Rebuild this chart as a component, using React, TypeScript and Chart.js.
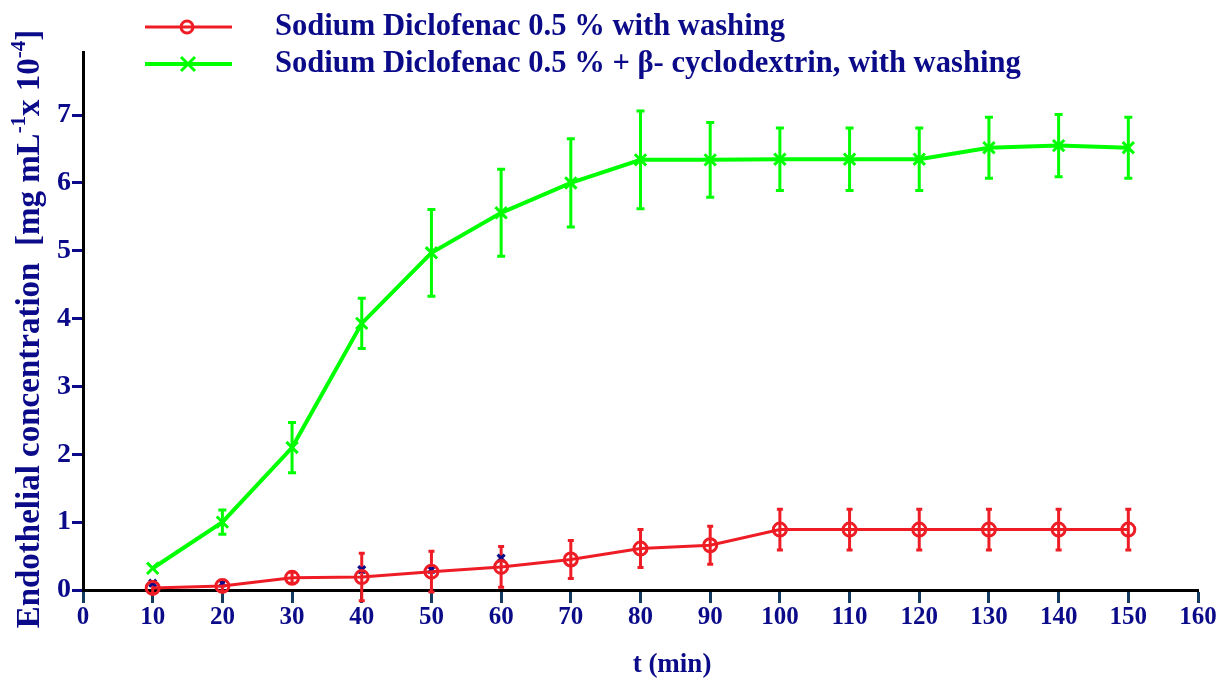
import React, { useEffect, useRef } from 'react';
import { Chart, registerables } from 'chart.js';

Chart.register(...registerables);

// ---- data ----
const times = [10, 20, 30, 40, 50, 60, 70, 80, 90, 100, 110, 120, 130, 140, 150];
const redMeans = [0.03, 0.06, 0.18, 0.19, 0.27, 0.34, 0.45, 0.61, 0.66, 0.89, 0.89, 0.89, 0.89, 0.89, 0.89];
const redErrors = [0.08, 0.08, 0.08, 0.35, 0.3, 0.3, 0.28, 0.28, 0.28, 0.3, 0.3, 0.3, 0.3, 0.3, 0.3];
const greenMeans = [0.32, 1.0, 2.1, 3.93, 4.97, 5.56, 6.0, 6.34, 6.34, 6.35, 6.35, 6.35, 6.52, 6.55, 6.52];
const greenErrors = [0, 0.18, 0.37, 0.37, 0.64, 0.64, 0.65, 0.72, 0.55, 0.46, 0.46, 0.46, 0.45, 0.46, 0.45];
const navyTimes = [10, 20, 40, 50, 60];
const navyValues = [0.1, 0.1, 0.3, 0.3, 0.47];
const yTickValues = [0, 1, 2, 3, 4, 5, 6, 7];
const xMin = 0;
const xMax = 160;
const yMax = 7.93;

const redLabel = 'Sodium Diclofenac 0.5 % with washing';
const greenLabel = 'Sodium Diclofenac 0.5 % + \u03B2- cyclodextrin, with washing';
const xTitle = 't (min)';
const yTitleParts = [
  { t: 'Endothelial concentration  [mg mL', sup: false },
  { t: '-1', sup: true },
  { t: 'x 10', sup: false },
  { t: '-4', sup: true },
  { t: ']', sup: false },
];

const RED = '#ee1c25';
const GREEN = '#00ff00';
const NAVY = '#0b0b8a';
const TICKNAVY = '#153a60';
const FONT = '"Liberation Serif", "Times New Roman", serif';

const errorBarPlugin = {
  id: 'errorBars',
  beforeDatasetsDraw(chart: any) {
    const ctx = chart.ctx;
    const xs = chart.scales.x;
    const ys = chart.scales.y;
    const sets = [
      { means: redMeans, errs: redErrors, color: RED, cap: 3, lw: 3 },
      { means: greenMeans, errs: greenErrors, color: GREEN, cap: 4, lw: 3 },
    ];
    ctx.save();
    for (const s of sets) {
      ctx.strokeStyle = s.color;
      ctx.lineWidth = s.lw;
      times.forEach((t, i) => {
        const e = s.errs[i];
        if (!e) return;
        const px = xs.getPixelForValue(t);
        const top = ys.getPixelForValue(s.means[i] + e);
        const bot = ys.getPixelForValue(s.means[i] - e);
        ctx.beginPath();
        ctx.moveTo(px, top);
        ctx.lineTo(px, bot);
        ctx.moveTo(px - s.cap, top);
        ctx.lineTo(px + s.cap, top);
        ctx.moveTo(px - s.cap, bot);
        ctx.lineTo(px + s.cap, bot);
        ctx.stroke();
      });
    }
    ctx.restore();
  },
};

const decorPlugin = {
  id: 'decor',
  afterDraw(chart: any) {
    const ctx = chart.ctx;
    ctx.save();
    const drawLegendRow = (y: number, color: string, lw: number, style: string, label: string) => {
      ctx.strokeStyle = color;
      ctx.lineWidth = lw;
      ctx.beginPath();
      ctx.moveTo(145, y);
      ctx.lineTo(232, y);
      ctx.stroke();
      ctx.lineWidth = 3;
      if (style === 'circle') {
        ctx.beginPath();
        ctx.ellipse(187, y, 6, 6, 0, 0, Math.PI * 2);
        ctx.stroke();
      } else {
        ctx.beginPath();
        ctx.moveTo(181, y - 7);
        ctx.lineTo(195, y + 7);
        ctx.moveTo(195, y - 7);
        ctx.lineTo(181, y + 7);
        ctx.stroke();
      }
      ctx.fillStyle = NAVY;
      ctx.font = `bold 30.6px ${FONT}`;
      ctx.textAlign = 'left';
      ctx.textBaseline = 'middle';
      ctx.fillText(label, 275, y);
    };
    drawLegendRow(27, RED, 3, 'circle', redLabel);
    drawLegendRow(64, GREEN, 4, 'cross', greenLabel);

    // x title
    ctx.fillStyle = NAVY;
    ctx.font = `bold 27px ${FONT}`;
    ctx.textAlign = 'center';
    ctx.textBaseline = 'middle';
    ctx.fillText(xTitle, 672, 665);

    // y title (rotated, with superscripts)
    ctx.save();
    ctx.translate(30, 329);
    ctx.rotate(-Math.PI / 2);
    ctx.fillStyle = NAVY;
    ctx.textBaseline = 'middle';
    ctx.textAlign = 'left';
    const mainFont = `bold 33px ${FONT}`;
    const supFont = `bold 21px ${FONT}`;
    let total = 0;
    for (const p of yTitleParts) {
      ctx.font = p.sup ? supFont : mainFont;
      total += ctx.measureText(p.t).width;
    }
    let cx = -total / 2;
    for (const p of yTitleParts) {
      ctx.font = p.sup ? supFont : mainFont;
      ctx.fillText(p.t, cx, p.sup ? -10 : 0);
      cx += ctx.measureText(p.t).width;
    }
    ctx.restore();
    ctx.restore();
  },
};

export default function App() {
  const canvasRef = useRef<HTMLCanvasElement | null>(null);

  useEffect(() => {
    document.body.style.margin = '0';
    const canvas = canvasRef.current;
    if (!canvas) return;
    const chart = new Chart(canvas, {
      type: 'line',
      data: {
        datasets: [
          {
            label: redLabel,
            data: times.map((t, i) => ({ x: t, y: redMeans[i] })),
            borderColor: RED,
            backgroundColor: 'transparent',
            borderWidth: 3,
            pointStyle: 'circle',
            pointRadius: 6.5,
            pointBorderWidth: 3,
            pointBorderColor: RED,
            pointBackgroundColor: 'rgba(0,0,0,0)',
            tension: 0,
            clip: false,
            order: 1,
          },
          {
            label: greenLabel,
            data: times.map((t, i) => ({ x: t, y: greenMeans[i] })),
            borderColor: GREEN,
            backgroundColor: 'transparent',
            borderWidth: 4,
            pointStyle: 'crossRot',
            pointRadius: 8,
            pointBorderWidth: 3,
            pointBorderColor: GREEN,
            tension: 0,
            clip: false,
            order: 2,
          },
          {
            label: 'marks',
            data: navyTimes.map((t, i) => ({ x: t, y: navyValues[i] })),
            showLine: false,
            borderColor: NAVY,
            pointStyle: 'crossRot',
            pointRadius: 5,
            pointBorderWidth: 3,
            pointBorderColor: NAVY,
            clip: false,
            order: 3,
          },
        ],
      },
      options: {
        animation: false,
        responsive: false,
        maintainAspectRatio: false,
        layout: { padding: { left: 0, top: 52, right: 22, bottom: 0 } },
        plugins: {
          legend: { display: false },
          tooltip: { enabled: false },
        },
        scales: {
          x: {
            type: 'linear',
            min: xMin,
            max: xMax,
            afterFit: (scale: any) => {
              scale.height = 88;
            },
            ticks: {
              stepSize: 10,
              color: NAVY,
              font: { family: FONT, size: 25, weight: 'bold' },
              padding: 0,
              maxRotation: 0,
              autoSkip: false,
            },
            grid: {
              drawOnChartArea: false,
              drawTicks: true,
              tickLength: 13,
              tickColor: TICKNAVY,
              tickWidth: 3,
            },
            border: { color: '#000000', width: 3 },
          },
          y: {
            type: 'linear',
            min: 0,
            max: yMax,
            afterFit: (scale: any) => {
              scale.width = 83;
            },
            afterBuildTicks: (scale: any) => {
              scale.ticks = yTickValues.map((v) => ({ value: v }));
            },
            ticks: {
              color: NAVY,
              font: { family: FONT, size: 28, weight: 'bold' },
              padding: 1,
            },
            grid: {
              drawOnChartArea: false,
              drawTicks: true,
              tickLength: 11,
              tickColor: NAVY,
              tickWidth: 3,
            },
            border: { color: '#000000', width: 3 },
          },
        },
      },
      plugins: [errorBarPlugin, decorPlugin],
    } as any);
    return () => chart.destroy();
  }, []);

  return (
    <div style={{ width: 1220, height: 678, background: '#ffffff' }}>
      <canvas ref={canvasRef} width={1220} height={678} style={{ display: 'block' }} />
    </div>
  );
}
